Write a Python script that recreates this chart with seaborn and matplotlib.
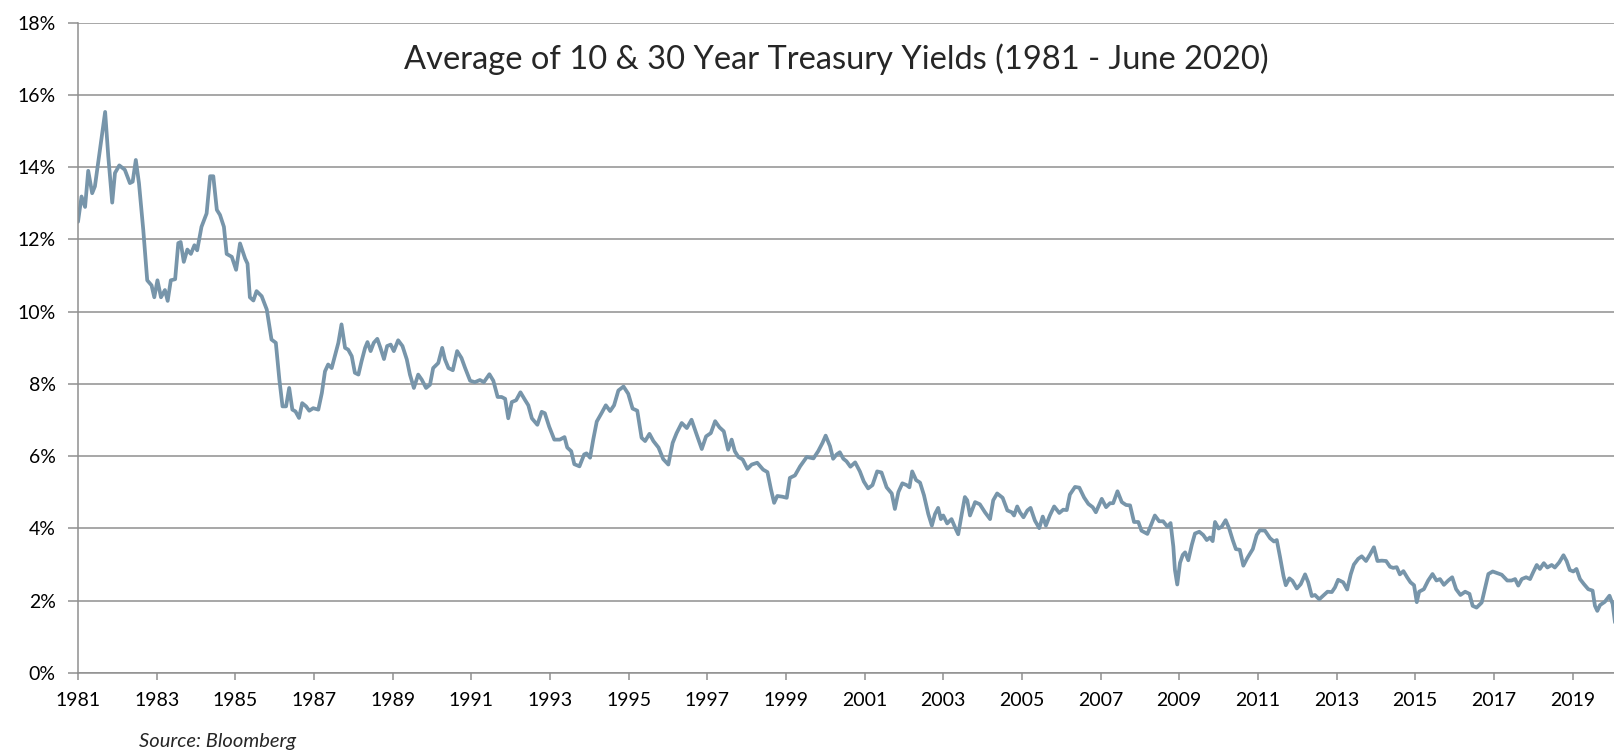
import numpy as np
import pandas as pd
import matplotlib
matplotlib.use("Agg")
import matplotlib.pyplot as plt
import seaborn as sns

# average of 10y & 30y treasury yields (fractional years)
dates = [
    1981.00, 1981.09, 1981.18, 1981.26, 1981.36, 1981.43, 1981.56, 1981.69, 1981.77, 1981.87,
    1981.94, 1982.05, 1982.19, 1982.32, 1982.39, 1982.47, 1982.55, 1982.66, 1982.76, 1982.87,
    1982.94, 1983.02, 1983.11, 1983.21, 1983.28, 1983.36, 1983.47, 1983.55, 1983.61, 1983.69,
    1983.78, 1983.87, 1983.96, 1984.03, 1984.14, 1984.27, 1984.36, 1984.44, 1984.53, 1984.61,
    1984.71, 1984.78, 1984.91, 1985.02, 1985.12, 1985.25, 1985.31, 1985.37, 1985.46, 1985.54,
    1985.67, 1985.80, 1985.92, 1986.03, 1986.12, 1986.20, 1986.29, 1986.37, 1986.45, 1986.53,
    1986.62, 1986.70, 1986.80, 1986.88, 1986.98, 1987.11, 1987.20, 1987.28, 1987.36, 1987.45,
    1987.53, 1987.62, 1987.70, 1987.79, 1987.87, 1987.96, 1988.04, 1988.13, 1988.21, 1988.30,
    1988.36, 1988.44, 1988.52, 1988.61, 1988.69, 1988.78, 1988.86, 1988.95, 1989.03, 1989.14,
    1989.25, 1989.36, 1989.44, 1989.54, 1989.65, 1989.74, 1989.85, 1989.95, 1990.03, 1990.16,
    1990.26, 1990.33, 1990.42, 1990.53, 1990.64, 1990.75, 1990.84, 1990.97, 1991.09, 1991.22,
    1991.32, 1991.46, 1991.56, 1991.67, 1991.77, 1991.86, 1991.94, 1992.03, 1992.14, 1992.25,
    1992.37, 1992.45, 1992.54, 1992.68, 1992.79, 1992.87, 1992.98, 1993.11, 1993.25, 1993.37,
    1993.44, 1993.54, 1993.62, 1993.75, 1993.87, 1993.93, 1994.02, 1994.10, 1994.19, 1994.31,
    1994.42, 1994.53, 1994.63, 1994.74, 1994.87, 1994.99, 1995.10, 1995.22, 1995.33, 1995.42,
    1995.53, 1995.63, 1995.76, 1995.88, 1996.01, 1996.12, 1996.22, 1996.35, 1996.48, 1996.60,
    1996.73, 1996.86, 1996.97, 1997.09, 1997.20, 1997.31, 1997.42, 1997.53, 1997.62, 1997.70,
    1997.79, 1997.90, 1998.02, 1998.13, 1998.27, 1998.42, 1998.53, 1998.62, 1998.70, 1998.78,
    1998.91, 1999.02, 1999.10, 1999.23, 1999.36, 1999.53, 1999.70, 1999.82, 1999.93, 2000.01,
    2000.12, 2000.20, 2000.29, 2000.37, 2000.46, 2000.54, 2000.64, 2000.76, 2000.88, 2000.98,
    2001.09, 2001.20, 2001.32, 2001.43, 2001.56, 2001.69, 2001.77, 2001.86, 2001.96, 2002.07,
    2002.14, 2002.21, 2002.31, 2002.41, 2002.51, 2002.62, 2002.71, 2002.79, 2002.87, 2002.94,
    2003.00, 2003.10, 2003.21, 2003.32, 2003.38, 2003.47, 2003.55, 2003.61, 2003.68, 2003.81,
    2003.93, 2004.06, 2004.19, 2004.27, 2004.37, 2004.51, 2004.63, 2004.74, 2004.80, 2004.88,
    2004.95, 2005.04, 2005.14, 2005.22, 2005.33, 2005.44, 2005.53, 2005.61, 2005.71, 2005.82,
    2005.95, 2006.05, 2006.14, 2006.22, 2006.35, 2006.46, 2006.58, 2006.69, 2006.80, 2006.88,
    2007.03, 2007.14, 2007.24, 2007.32, 2007.43, 2007.54, 2007.65, 2007.75, 2007.85, 2007.96,
    2008.04, 2008.19, 2008.30, 2008.38, 2008.49, 2008.59, 2008.70, 2008.78, 2008.85, 2008.89,
    2008.95, 2009.02, 2009.09, 2009.15, 2009.23, 2009.32, 2009.40, 2009.51, 2009.61, 2009.70,
    2009.78, 2009.85, 2009.91, 2010.00, 2010.08, 2010.18, 2010.27, 2010.36, 2010.44, 2010.54,
    2010.63, 2010.73, 2010.87, 2010.97, 2011.05, 2011.18, 2011.31, 2011.41, 2011.48, 2011.56,
    2011.65, 2011.71, 2011.80, 2011.88, 2011.99, 2012.09, 2012.20, 2012.28, 2012.37, 2012.45,
    2012.56, 2012.66, 2012.77, 2012.88, 2012.96, 2013.04, 2013.17, 2013.27, 2013.36, 2013.44,
    2013.55, 2013.64, 2013.75, 2013.85, 2013.95, 2014.04, 2014.15, 2014.26, 2014.36, 2014.44,
    2014.53, 2014.61, 2014.70, 2014.80, 2014.88, 2014.97, 2015.04, 2015.10, 2015.22, 2015.33,
    2015.44, 2015.54, 2015.63, 2015.73, 2015.84, 2015.94, 2016.04, 2016.15, 2016.27, 2016.38,
    2016.46, 2016.56, 2016.69, 2016.77, 2016.86, 2016.97, 2017.07, 2017.20, 2017.34, 2017.45,
    2017.54, 2017.62, 2017.71, 2017.82, 2017.92, 2018.00, 2018.09, 2018.17, 2018.27, 2018.36,
    2018.47, 2018.55, 2018.66, 2018.77, 2018.85, 2018.93, 2019.02, 2019.10, 2019.19, 2019.29,
    2019.40, 2019.51, 2019.57, 2019.63, 2019.70, 2019.82, 2019.94, 2020.02, 2020.08, 2020.15,
]
yields = [
    12.49, 13.19, 12.90, 13.90, 13.28, 13.47, 14.50, 15.53, 14.30, 13.02,
    13.84, 14.05, 13.93, 13.56, 13.60, 14.20, 13.56, 12.26, 10.87, 10.73,
    10.40, 10.87, 10.40, 10.60, 10.30, 10.87, 10.90, 11.90, 11.93, 11.38,
    11.72, 11.60, 11.84, 11.70, 12.35, 12.72, 13.75, 13.75, 12.82, 12.68,
    12.35, 11.60, 11.52, 11.16, 11.89, 11.47, 11.33, 10.40, 10.31, 10.57,
    10.43, 10.06, 9.23, 9.14, 8.12, 7.38, 7.38, 7.89, 7.29, 7.24,
    7.06, 7.47, 7.38, 7.26, 7.33, 7.29, 7.75, 8.35, 8.54, 8.44,
    8.77, 9.14, 9.65, 9.00, 8.95, 8.77, 8.31, 8.26, 8.63, 9.00,
    9.16, 8.91, 9.14, 9.25, 9.00, 8.69, 9.05, 9.09, 8.91, 9.21,
    9.05, 8.68, 8.26, 7.89, 8.26, 8.12, 7.89, 7.98, 8.44, 8.58,
    9.00, 8.68, 8.44, 8.38, 8.91, 8.72, 8.45, 8.09, 8.05, 8.11,
    8.05, 8.27, 8.09, 7.64, 7.64, 7.59, 7.05, 7.50, 7.55, 7.77,
    7.55, 7.41, 7.05, 6.87, 7.23, 7.19, 6.82, 6.46, 6.46, 6.53,
    6.24, 6.14, 5.78, 5.72, 6.05, 6.08, 5.96, 6.46, 6.96, 7.19,
    7.41, 7.25, 7.41, 7.82, 7.93, 7.73, 7.32, 7.26, 6.51, 6.42,
    6.62, 6.42, 6.24, 5.92, 5.77, 6.37, 6.64, 6.92, 6.78, 7.01,
    6.60, 6.20, 6.55, 6.64, 6.97, 6.80, 6.69, 6.18, 6.46, 6.14,
    5.98, 5.91, 5.65, 5.77, 5.82, 5.63, 5.56, 5.08, 4.71, 4.90,
    4.88, 4.85, 5.40, 5.47, 5.72, 5.98, 5.94, 6.14, 6.37, 6.57,
    6.28, 5.93, 6.05, 6.11, 5.93, 5.86, 5.71, 5.83, 5.58, 5.30,
    5.11, 5.20, 5.58, 5.55, 5.14, 4.97, 4.54, 5.01, 5.25, 5.20,
    5.14, 5.58, 5.34, 5.27, 4.92, 4.40, 4.08, 4.40, 4.57, 4.26,
    4.36, 4.14, 4.26, 3.98, 3.84, 4.40, 4.87, 4.78, 4.36, 4.73,
    4.67, 4.45, 4.26, 4.78, 4.97, 4.85, 4.50, 4.45, 4.36, 4.61,
    4.45, 4.31, 4.50, 4.57, 4.22, 4.01, 4.33, 4.08, 4.36, 4.61,
    4.43, 4.52, 4.51, 4.94, 5.15, 5.13, 4.86, 4.68, 4.59, 4.45,
    4.82, 4.59, 4.70, 4.70, 5.03, 4.73, 4.65, 4.64, 4.18, 4.18,
    3.94, 3.85, 4.14, 4.36, 4.20, 4.20, 4.05, 4.15, 3.50, 2.86,
    2.45, 3.05, 3.27, 3.34, 3.12, 3.55, 3.86, 3.91, 3.82, 3.68,
    3.75, 3.65, 4.18, 4.00, 4.05, 4.23, 4.00, 3.68, 3.43, 3.41,
    2.97, 3.18, 3.43, 3.82, 3.95, 3.94, 3.73, 3.64, 3.68, 3.23,
    2.69, 2.43, 2.62, 2.55, 2.34, 2.46, 2.73, 2.51, 2.13, 2.16,
    2.04, 2.14, 2.25, 2.24, 2.37, 2.58, 2.51, 2.31, 2.73, 3.00,
    3.16, 3.23, 3.10, 3.28, 3.48, 3.10, 3.11, 3.10, 2.94, 2.91,
    2.93, 2.73, 2.82, 2.64, 2.51, 2.43, 1.96, 2.25, 2.32, 2.56,
    2.74, 2.56, 2.60, 2.44, 2.56, 2.65, 2.32, 2.16, 2.25, 2.19,
    1.86, 1.81, 1.95, 2.32, 2.74, 2.81, 2.77, 2.72, 2.56, 2.56,
    2.60, 2.42, 2.60, 2.65, 2.60, 2.79, 2.99, 2.88, 3.04, 2.92,
    2.99, 2.92, 3.06, 3.26, 3.10, 2.85, 2.81, 2.88, 2.60, 2.46,
    2.32, 2.28, 1.86, 1.72, 1.88, 1.97, 2.14, 1.91, 1.40, 1.10,
]

year_ticks = list(range(1981, 2020, 2))
pct_ticks = list(range(0, 19, 2))
pct_labels = [f"{p}%" for p in pct_ticks]
title = "Average of 10 & 30 Year Treasury Yields (1981 - June 2020)"
source = "Source: Bloomberg"

sns.set_style("white")
plt.rcParams['font.family'] = ['Lato', 'DejaVu Sans']

df = pd.DataFrame({'date': dates, 'yield': yields})

W, H = 1615, 752
fig = plt.figure(figsize=(W / 100, H / 100), dpi=100)
ax = fig.add_axes([78 / W, 1 - 673 / H, 1 - 78 / W, (673 - 22.7) / H])

sns.lineplot(data=df, x='date', y='yield', color='#7795AA', lw=2.7, ax=ax)
for ln in ax.get_lines():
    ln.set_solid_joinstyle('round')
    ln.set_solid_capstyle('round')

ax.set_xlim(1981, 2020.08)
ax.set_ylim(0, 18)
ax.set_xticks(year_ticks)
ax.set_xticklabels([str(y) for y in year_ticks])
ax.set_yticks(pct_ticks)
ax.set_yticklabels(pct_labels)
ax.set_xlabel('')
ax.set_ylabel('')

grid_col = '#8f8f8f'
ax.yaxis.grid(True, color=grid_col, lw=1.1)
ax.set_axisbelow(True)
for s in ['top', 'right']:
    ax.spines[s].set_visible(False)
for s in ['left', 'bottom']:
    ax.spines[s].set_color(grid_col)
    ax.spines[s].set_linewidth(1.1)

ax.tick_params(axis='y', left=True, length=7, width=1.1, color=grid_col,
               labelsize=14, pad=9, labelcolor='black')
ax.tick_params(axis='x', bottom=True, length=5, width=1.1, color=grid_col,
               labelsize=14, pad=9, labelcolor='black')

fig.text(836 / W, 1 - 59 / H, title, ha='center', va='center', fontsize=23.5)
fig.text(218 / W, 1 - 742 / H, source, ha='center', va='center',
         fontsize=14.5, style='italic')

fig.savefig('out.png', dpi=100)
